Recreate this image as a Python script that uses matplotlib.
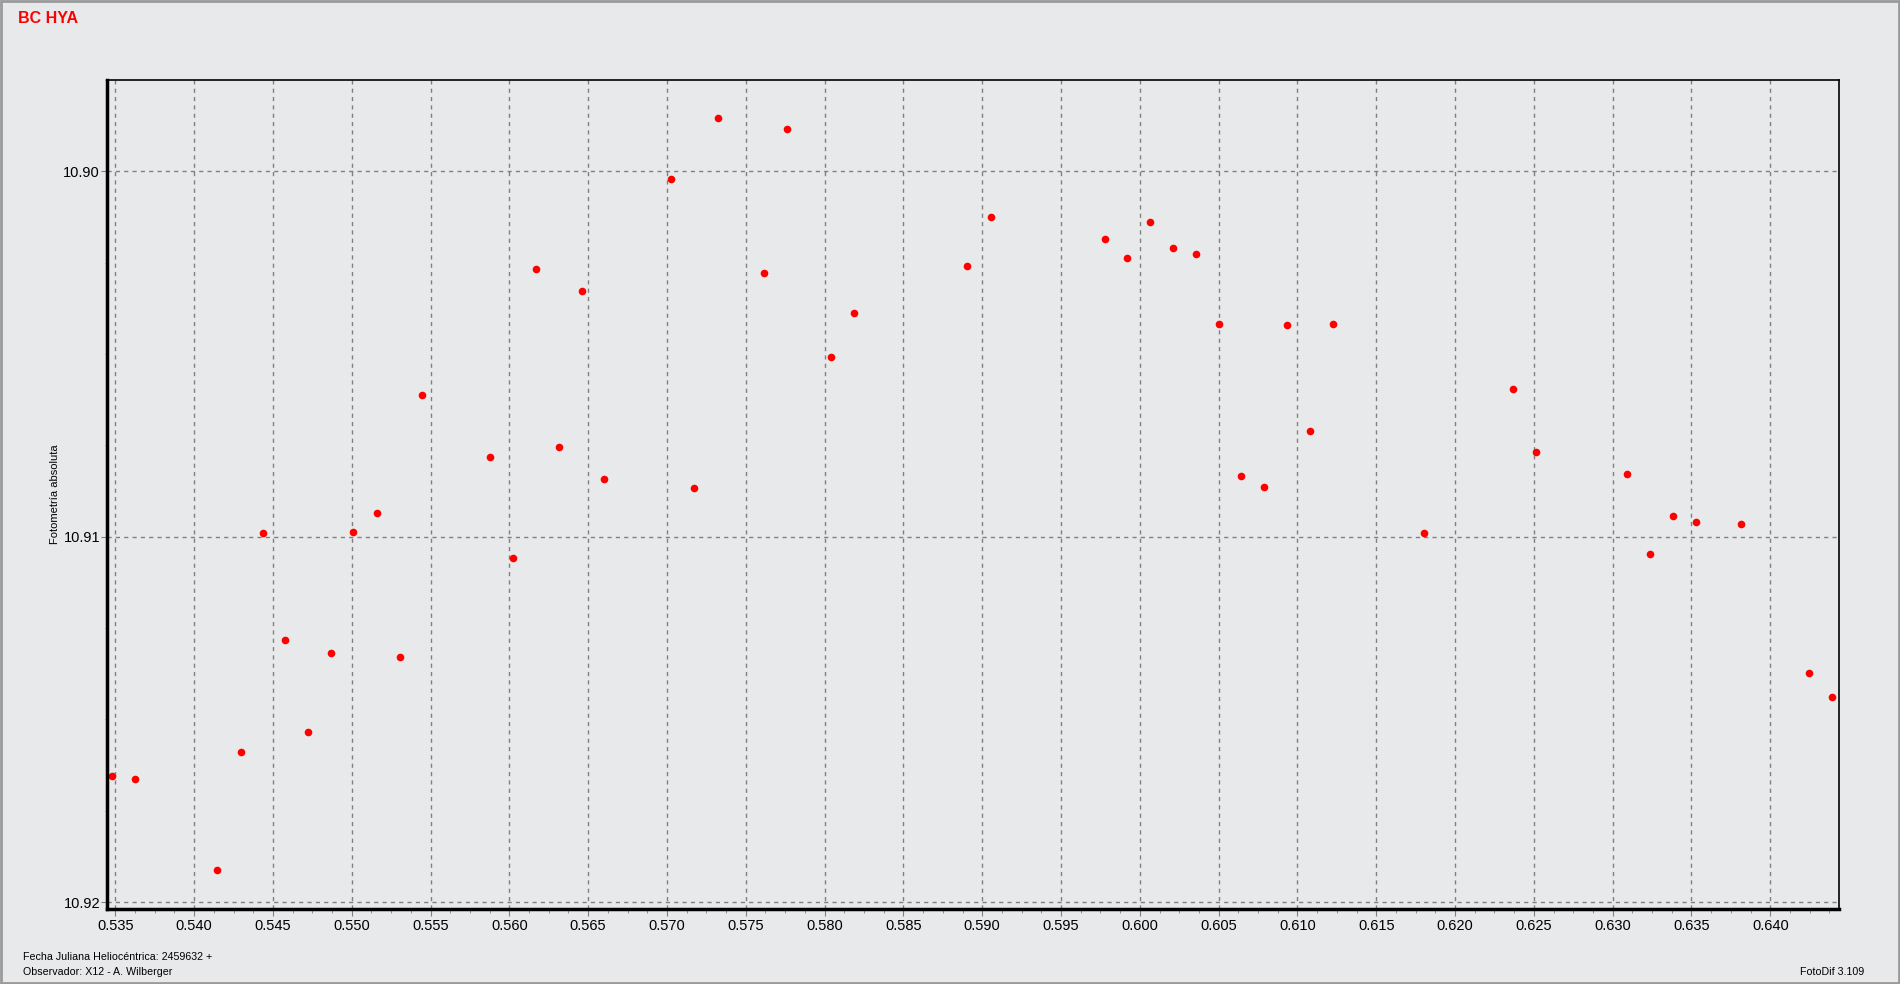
import numpy as np
import matplotlib.pyplot as plt
from matplotlib.ticker import MultipleLocator, FormatStrFormatter
from matplotlib.patches import Rectangle

# heliocentric JD fraction (+2459632) and magnitude
hjd = [0.53478, 0.53624, 0.54146, 0.54300, 0.54438, 0.54577, 0.54723, 0.54869,
       0.55007, 0.55161, 0.55307, 0.55445, 0.55876, 0.56022, 0.56168, 0.56314,
       0.56460, 0.56598, 0.57028, 0.57174, 0.57321, 0.57613, 0.57759, 0.58043,
       0.58189, 0.58904, 0.59058, 0.59780, 0.59919, 0.60065, 0.60211, 0.60357,
       0.60503, 0.60641, 0.60787, 0.60933, 0.61079, 0.61225, 0.61802, 0.62370,
       0.62516, 0.63093, 0.63239, 0.63385, 0.63531, 0.63815, 0.64246, 0.64392]
mag = [10.91654, 10.91664, 10.91913, 10.91588, 10.90990, 10.91282, 10.91534, 10.91318,
       10.90987, 10.90934, 10.91328, 10.90612, 10.90782, 10.91057, 10.90268, 10.90755,
       10.90327, 10.90841, 10.90022, 10.90868, 10.89853, 10.90277, 10.89883, 10.90507,
       10.90387, 10.90258, 10.90125, 10.90185, 10.90238, 10.90138, 10.90211, 10.90225,
       10.90417, 10.90835, 10.90865, 10.90420, 10.90712, 10.90417, 10.90990, 10.90596,
       10.90768, 10.90828, 10.91047, 10.90944, 10.90961, 10.90964, 10.91372, 10.91438]

bg = '#e8e9eb'
fig = plt.figure(figsize=(19, 9.84), dpi=100, facecolor=bg)
ax = fig.add_axes([0.0563, 0.0762, 0.9116, 0.8425], facecolor=bg)

ax.plot(hjd, mag, 'o', color='#ff0000', markersize=5.5, markeredgewidth=0)

ax.set_xlim(0.53447, 0.64436)
ax.set_ylim(10.92019, 10.8975)
ax.xaxis.set_major_locator(MultipleLocator(0.005))
ax.xaxis.set_minor_locator(MultipleLocator(0.00125))
ax.yaxis.set_major_locator(MultipleLocator(0.01))
ax.yaxis.set_minor_locator(MultipleLocator(0.0025))
ax.xaxis.set_major_formatter(FormatStrFormatter('%.3f'))
ax.yaxis.set_major_formatter(FormatStrFormatter('%.2f'))

ax.grid(True, which='major', color='#808080', linestyle=(0, (3, 3)), linewidth=1)
ax.tick_params(which='major', length=5, color='#808080', labelsize=10.5)
ax.tick_params(axis='x', which='major', pad=2)
ax.tick_params(axis='y', which='major', pad=1, length=4)
ax.tick_params(which='minor', length=3, color='#808080')
ax.tick_params(axis='y', which='minor', length=1.5)
for t in ax.get_xticklabels() + ax.get_yticklabels():
    t.set_family('Liberation Sans')

ax.spines['left'].set_linewidth(2.5)
ax.spines['bottom'].set_linewidth(2.5)
ax.spines['top'].set_linewidth(1.2)
ax.spines['right'].set_linewidth(1.2)

ax.set_ylabel('Fotometría absoluta', fontsize=8, family='Liberation Sans')
ax.yaxis.set_label_coords(-0.0271, 0.5)

fig.text(0.0095, 0.9807, 'BC HYA', color='#ff0000', fontsize=11.5, fontweight='bold',
         family='Liberation Sans', va='center')
fig.text(0.012, 0.0274, 'Fecha Juliana Heliocéntrica: 2459632 +', fontsize=7.7,
         family='Liberation Sans', va='center')
fig.text(0.012, 0.0122, 'Observador: X12 - A. Wilberger', fontsize=7.7,
         family='Liberation Sans', va='center')
fig.text(0.981, 0.0122, 'FotoDif 3.109', fontsize=7.7, family='Liberation Sans',
         va='center', ha='right')

fig.patches.append(Rectangle((0.0005, 0.001), 0.999, 0.998, transform=fig.transFigure,
                             fill=False, edgecolor='#9a9a9a', linewidth=2))

fig.savefig('out.png', dpi=100, facecolor=bg)
